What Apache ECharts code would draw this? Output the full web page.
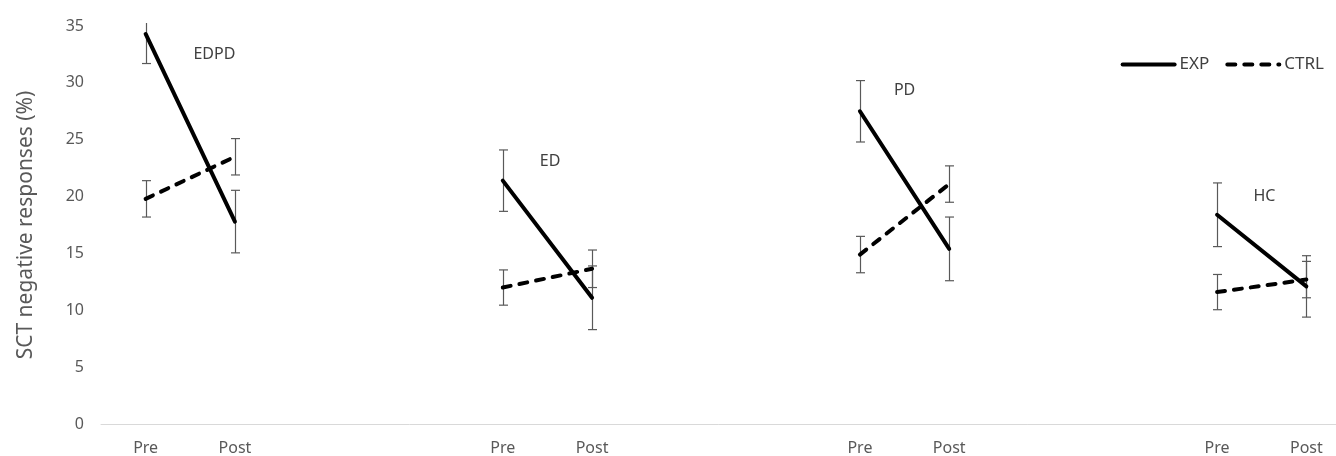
<!DOCTYPE html>
<html>
<head>
<meta charset="utf-8">
<script src="https://cdn.jsdelivr.net/npm/echarts@6/dist/echarts.min.js"></script>
<style>
html,body{margin:0;padding:0;background:#fff;}
#chart{width:1336px;height:456px;}
</style>
</head>
<body>
<div id="chart"></div>
<script>
// ---- data ----
const categories = ['Pre','Post','','','Pre','Post','','','Pre','Post','','','Pre','Post'];
const groups = ['EDPD','ED','PD','HC'];
const expPre = [34.3, 21.4, 27.5, 18.4];
const expPost = [17.8, 11.1, 15.4, 12.1];
const expPreErr = [2.6, 2.7, 2.7, 2.8];
const expPostErr = [2.75, 2.8, 2.8, 2.7];
const ctrlPre = [19.8, 12.0, 14.9, 11.6];
const ctrlPost = [23.5, 13.65, 21.1, 12.7];
const ctrlPreErr = [1.6, 1.55, 1.6, 1.55];
const ctrlPostErr = [1.6, 1.65, 1.6, 1.6];
const yMin = 0, yMax = 35, yInterval = 5;
const yAxisName = 'SCT negative responses (%)';
const seriesNames = ['EXP', 'CTRL'];

// ---- annotation layout (positions of the group labels) ----
const labelY = [32.5, 23.1, 29.3, 20.05];
const labelFrac = [0.77, 0.53, 0.5, 0.53];

// ---- build series data ----
const preIdx = [];
categories.forEach((c, i) => { if (c === 'Pre') preIdx.push(i); });
const expLine = categories.map(() => null);
const ctrlLine = categories.map(() => null);
const errData = [];
preIdx.forEach((p, g) => {
  expLine[p] = expPre[g]; expLine[p + 1] = expPost[g];
  ctrlLine[p] = ctrlPre[g]; ctrlLine[p + 1] = ctrlPost[g];
  errData.push([p, expPre[g] - expPreErr[g], expPre[g] + expPreErr[g]]);
  errData.push([p + 1, expPost[g] - expPostErr[g], expPost[g] + expPostErr[g]]);
  errData.push([p, ctrlPre[g] - ctrlPreErr[g], ctrlPre[g] + ctrlPreErr[g]]);
  errData.push([p + 1, ctrlPost[g] - ctrlPostErr[g], ctrlPost[g] + ctrlPostErr[g]]);
});
const labelData = preIdx.map((p, g) => [p, labelY[g], labelFrac[g]]);

const FONT = '"Noto Sans", "Open Sans", sans-serif';
const chart = echarts.init(document.getElementById('chart'), null, {renderer: 'canvas'});
chart.setOption({
  animation: false,
  backgroundColor: '#ffffff',
  textStyle: {fontFamily: FONT},
  grid: {left: 101, right: -15, top: 26, bottom: 32, containLabel: false, outerBoundsMode: 'none'},
  legend: {
    data: seriesNames,
    right: 7, top: 51,
    itemWidth: 52, itemHeight: 6, itemGap: 16,
    itemStyle: {opacity: 0},
    lineStyle: {width: 4, cap: 'round'},
    textStyle: {fontSize: 17, color: '#404040', fontFamily: FONT}
  },
  xAxis: {
    type: 'category',
    data: categories,
    boundaryGap: true,
    axisLine: {lineStyle: {color: '#d9d9d9', width: 1}},
    axisTick: {show: false},
    axisLabel: {interval: 0, color: '#595959', fontSize: 16, margin: 16, fontFamily: FONT},
    splitLine: {show: false}
  },
  yAxis: {
    type: 'value',
    min: yMin, max: yMax, interval: yInterval,
    name: yAxisName,
    nameLocation: 'middle',
    nameGap: 64,
    nameTextStyle: {color: '#595959', fontSize: 21, fontFamily: FONT},
    axisLine: {show: false},
    axisTick: {show: false},
    splitLine: {show: false},
    axisLabel: {color: '#595959', fontSize: 16, margin: 17, fontFamily: FONT}
  },
  series: [
    {
      type: 'custom',
      name: 'errorbars',
      z: 1,
      data: errData,
      renderItem: function (params, api) {
        const x = api.value(0), lo = api.value(1), hi = api.value(2);
        const pLo = api.coord([x, lo]);
        const pHi = api.coord([x, hi]);
        const topLimit = params.coordSys.y - 3;
        let yHi = pHi[1];
        let capTop = true;
        if (yHi < topLimit) { yHi = topLimit; capTop = false; }
        const px = Math.round(pLo[0]) + 0.5;
        const w = 4.5;
        const st = {stroke: '#595959', lineWidth: 1.2};
        const children = [
          {type: 'line', shape: {x1: px, y1: pLo[1], x2: px, y2: yHi}, style: st},
          {type: 'line', shape: {x1: px - w, y1: pLo[1], x2: px + w, y2: pLo[1]}, style: st}
        ];
        if (capTop) children.push({type: 'line', shape: {x1: px - w, y1: yHi, x2: px + w, y2: yHi}, style: st});
        return {type: 'group', children: children};
      }
    },
    {
      name: 'EXP', type: 'line', data: expLine, connectNulls: false,
      symbol: 'none', z: 3,
      lineStyle: {color: '#000', width: 4, cap: 'round'},
      itemStyle: {color: '#000'}
    },
    {
      name: 'CTRL', type: 'line', data: ctrlLine, connectNulls: false,
      symbol: 'none', z: 2,
      lineStyle: {color: '#000', width: 4, type: [8, 9], cap: 'round'},
      itemStyle: {color: '#000'}
    },
    {
      type: 'custom',
      name: 'grouplabels',
      z: 4,
      data: labelData,
      renderItem: function (params, api) {
        const p = api.value(0), y = api.value(1), f = api.value(2);
        const a = api.coord([p, y]);
        const b = api.coord([p + 1, y]);
        return {
          type: 'text',
          style: {
            text: groups[params.dataIndex],
            x: a[0] + f * (b[0] - a[0]), y: a[1],
            align: 'center', verticalAlign: 'middle',
            fill: '#404040', font: '16px ' + FONT
          }
        };
      }
    }
  ]
});
</script>
</body>
</html>
